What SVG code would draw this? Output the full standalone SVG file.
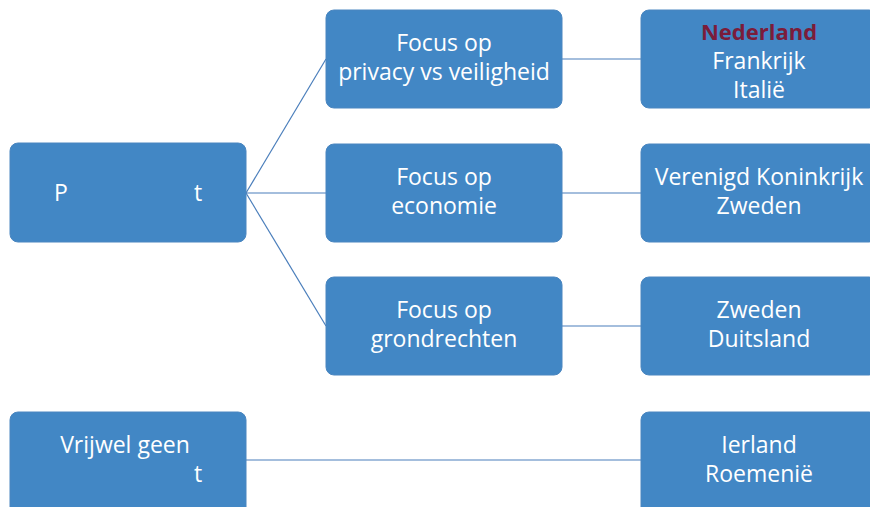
<svg xmlns="http://www.w3.org/2000/svg" width="870" height="507" viewBox="0 0 870 507">
<style>
.box{fill:#4287c5;stroke:#4a86c0;stroke-width:1}
.t{font-family:"Open Sans","Noto Sans",sans-serif;font-size:23px;fill:#ffffff;text-anchor:middle}
.red{fill:#7b1c3a;font-weight:bold;font-size:22px}
.c{stroke:#4a7ebb;stroke-width:1.2;fill:none}
</style>
<rect width="870" height="507" fill="#ffffff"/>
<g id="connectors">
<line class="c" x1="246" y1="193" x2="326" y2="59"/>
<line class="c" x1="246" y1="193" x2="326" y2="193"/>
<line class="c" x1="246" y1="193" x2="326" y2="326"/>
<line class="c" x1="562" y1="59" x2="641" y2="59"/>
<line class="c" x1="562" y1="193" x2="641" y2="193"/>
<line class="c" x1="562" y1="326" x2="641" y2="326"/>
<line class="c" x1="246" y1="460" x2="641" y2="460"/>
</g>
<g id="root1">
<rect class="box" x="10" y="143" width="236" height="99" rx="8"/>
<text class="t" x="61" y="201">P</text>
<text class="t" x="198" y="201">t</text>
</g>
<g id="mid1">
<rect class="box" x="326" y="10" width="236" height="98" rx="8"/>
<text class="t" x="444" y="51">Focus op</text>
<text class="t" x="444" y="80">privacy vs veiligheid</text>
</g>
<g id="mid2">
<rect class="box" x="326" y="144" width="236" height="98" rx="8"/>
<text class="t" x="444" y="185">Focus op</text>
<text class="t" x="444" y="214">economie</text>
</g>
<g id="mid3">
<rect class="box" x="326" y="277" width="236" height="98" rx="8"/>
<text class="t" x="444" y="318">Focus op</text>
<text class="t" x="444" y="347">grondrechten</text>
</g>
<g id="right1">
<rect class="box" x="641" y="10" width="236" height="98" rx="8"/>
<text class="t red" x="759" y="40">Nederland</text>
<text class="t" x="759" y="69">Frankrijk</text>
<text class="t" x="759" y="98">Italië</text>
</g>
<g id="right2">
<rect class="box" x="641" y="144" width="236" height="98" rx="8"/>
<text class="t" x="759" y="185">Verenigd Koninkrijk</text>
<text class="t" x="759" y="214">Zweden</text>
</g>
<g id="right3">
<rect class="box" x="641" y="277" width="236" height="98" rx="8"/>
<text class="t" x="759" y="318">Zweden</text>
<text class="t" x="759" y="347">Duitsland</text>
</g>
<g id="root2">
<rect class="box" x="10" y="412" width="236" height="110" rx="8"/>
<text class="t" x="125" y="453">Vrijwel geen</text>
<text class="t" x="198" y="482">t</text>
</g>
<g id="right4">
<rect class="box" x="641" y="412" width="236" height="110" rx="8"/>
<text class="t" x="759" y="453">Ierland</text>
<text class="t" x="759" y="482">Roemenië</text>
</g>
</svg>
